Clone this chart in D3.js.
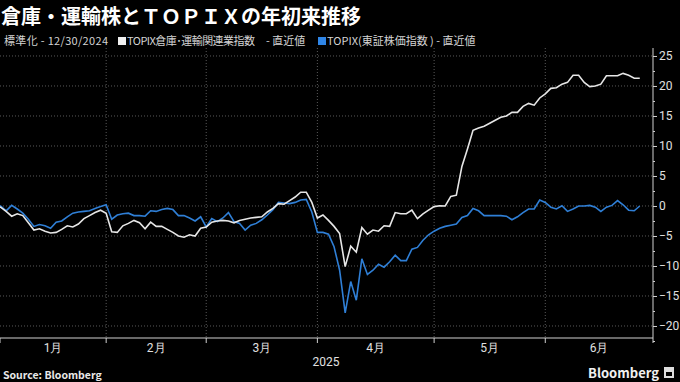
<!DOCTYPE html>
<html>
<head>
<meta charset="utf-8">
<script src="https://cdn.jsdelivr.net/npm/d3@7"></script>
<style>
	body {
		margin: 0;
		background: #000;
	}
	svg text {
		font-family: "Noto Sans CJK JP", "Noto Sans", sans-serif;
	}
	.grid line {
		stroke: #5a5a5a;
		stroke-dasharray: 1,2;
	}
	.axis path, .axis line {
		stroke: #d0d0d0;
	}
	.axis text {
		fill: #e0e0e0;
		font-size: 12px;
		font-family: "Liberation Sans Narrow", "Roboto", sans-serif;
	}
</style>
</head>
<body>
<div id="container"></div>
<script>
	// trading days since 12/30/2024 (index 0), normalised to 0
	var warehouse = [0, -0.2, -0.9, -1.7, -1.3, -1.6, -2.8, -4.0, -3.8, -4.2,
		-4.5, -4.4, -3.9, -3.3, -3.5, -3.0, -2.1, -1.6, -1.1, -0.7,
		-1.2, -4.3, -4.4, -3.3, -2.9, -2.4, -2.8, -3.8, -2.7, -3.4,
		-3.4, -3.9, -4.4, -5.0, -5.2, -4.8, -5.0, -3.7, -3.5, -2.7,
		-2.5, -2.4, -2.5, -2.8, -2.4, -2.2, -2.0, -1.9, -1.8, -1.0,
		-0.4, 0.4, 0.3, 0.9, 1.5, 2.3, 2.3, 0.6, -2.0, -1.5,
		-2.4, -3.4, -4.6, -10.1, -6.7, -7.7, -3.6, -4.7, -4.0, -4.2,
		-3.3, -3.4, -1.1, -1.3, -1.3, -0.7, -2.1, -1.3, -0.7, -0.1,
		0.05, 0.0, 1.6, 1.8, 6.6, 9.5, 12.6, 13.0, 13.3, 13.8,
		14.3, 14.8, 15.0, 15.6, 15.6, 16.6, 17.1, 16.8, 18.0, 18.7,
		19.6, 19.7, 20.3, 20.6, 21.8, 21.8, 20.6, 19.9, 20.0, 20.3,
		21.7, 21.7, 21.7, 22.1, 21.8, 21.3, 21.3];

	var topix = [0, 0, -0.8, 0.1, -0.5, -1.2, -2.2, -3.4, -3.1, -3.3,
		-3.7, -2.7, -2.5, -1.8, -1.2, -1.0, -0.9, -0.8, -0.4, -0.1,
		0.2, -2.2, -1.5, -1.3, -1.2, -1.6, -1.6, -1.7, -0.8, -0.9,
		-0.6, -0.4, -0.6, -1.6, -1.6, -2.0, -2.5, -1.8, -3.5, -2.1,
		-2.6, -2.0, -1.1, -2.6, -2.9, -4.0, -3.2, -2.9, -2.3, -1.5,
		-0.6, 0.6, 0.5, 0.4, 0.6, 1.0, 1.1, -1.0, -4.4, -4.4,
		-4.7, -6.8, -10.7, -17.8, -12.6, -15.7, -8.8, -11.4, -10.7, -9.7,
		-10.2, -9.3, -8.2, -9.1, -9.1, -7.2, -6.9, -5.7, -4.8, -4.2,
		-3.7, -3.4, -3.2, -3.0, -1.9, -1.6, -0.4, -0.8, -1.6, -1.6,
		-1.6, -1.6, -1.7, -2.3, -1.8, -1.1, -0.5, -0.5, 1.0, 0.6,
		-0.2, -0.5, 0.05, -0.9, -0.5, 0.0, 0.0, 0.1, -0.2, -0.9,
		-0.2, 0.1, 0.9, 0.2, -0.7, -0.8, 0.0];

	var monthLabels = ["1月", "2月", "3月", "4月", "5月", "6月"];
	// index of first trading day of each month (Feb..Jun)
	var monthStarts = [20, 38, 58, 79, 99];
	var yTicks = [-20, -15, -10, -5, 0, 5, 10, 15, 20, 25];

	var W = 680, H = 382;
	var plotL = 0, plotR = 653, plotT = 48, plotB = 338;

	var svg = d3.select("#container").append("svg")
		.attr("width", W)
		.attr("height", H)
		.style("background", "#000");

	var x = d3.scaleLinear().domain([0.9, 118.2]).range([plotL, plotR - 1]);
	var y = d3.scaleLinear().domain([-22, 26.33]).range([plotB, plotT]);

	// title + legend line
	svg.append("text")
		.attr("x", 1)
		.attr("y", 24)
		.attr("fill", "#fff")
		.attr("font-size", "20px")
		.attr("font-weight", "bold")
		.text("倉庫・運輸株とＴＯＰＩＸの年初来推移");

	var leg = svg.append("g").attr("font-size", "11px").attr("fill", "#d4d4d4");
	leg.append("text").attr("x", 4).attr("y", 45).attr("textLength", 104).text("標準化 - 12/30/2024");
	leg.append("rect").attr("x", 118).attr("y", 37).attr("width", 8).attr("height", 8).attr("fill", "#f0f0f0");
	leg.append("text").attr("x", 127).attr("y", 45).attr("textLength", 128).text("TOPIX倉庫･運輸関連業指数");
	leg.append("text").attr("x", 266).attr("y", 45).text("- 直近値");
	leg.append("rect").attr("x", 318).attr("y", 37).attr("width", 8).attr("height", 8).attr("fill", "#2f86e8");
	leg.append("text").attr("x", 327).attr("y", 45).text("TOPIX(東証株価指数 ) - 直近値");

	// grid
	var grid = svg.append("g").attr("class", "grid");
	grid.selectAll(".h").data(yTicks).enter().append("line")
		.attr("x1", plotL).attr("x2", plotR)
		.attr("y1", d => y(d)).attr("y2", d => y(d));
	grid.selectAll(".v").data(monthStarts).enter().append("line")
		.attr("x1", d => x(d)).attr("x2", d => x(d))
		.attr("y1", plotT).attr("y2", plotB);

	svg.append("defs").append("clipPath")
		.attr("id", "clip")
		.append("rect")
		.attr("x", plotL).attr("y", plotT)
		.attr("width", plotR - plotL).attr("height", plotB - plotT);

	var line = d3.line()
		.x((d, i) => x(i))
		.y(d => y(d));

	var lines = svg.append("g").attr("clip-path", "url(#clip)");
	lines.append("path")
		.attr("d", line(topix))
		.attr("fill", "none")
		.attr("stroke", "#2f7fd6")
		.attr("stroke-width", 1.6);
	lines.append("path")
		.attr("d", line(warehouse))
		.attr("fill", "none")
		.attr("stroke", "#e6e6e6")
		.attr("stroke-width", 1.6);

	// right axis
	var yAxis = svg.append("g")
		.attr("class", "axis")
		.attr("transform", "translate(" + plotR + ",0)")
		.call(d3.axisRight(y).tickValues(yTicks).tickSize(4).tickPadding(2).tickFormat(d3.format("d")));
	yAxis.select(".domain").attr("d", "M0," + plotT + "V" + plotB);
	svg.append("g").attr("class", "axis")
		.attr("transform", "translate(" + plotR + ",0)")
		.call(d3.axisRight(y).tickValues(d3.range(-22.5, 26, 2.5).filter(v => v % 5 != 0)).tickSize(2).tickFormat(""))
		.select(".domain").remove();

	// bottom axis
	var ticksX = [plotL].concat(monthStarts.map(d => x(d))).concat([plotR]);
	var xa = svg.append("g").attr("class", "axis");
	xa.append("line").attr("x1", plotL).attr("x2", plotR).attr("y1", plotB).attr("y2", plotB);
	xa.selectAll(".t").data(ticksX).enter().append("line")
		.attr("x1", d => d).attr("x2", d => d)
		.attr("y1", plotB).attr("y2", plotB + 5);
	xa.selectAll(".m").data(monthLabels).enter().append("text")
		.attr("x", (d, i) => (ticksX[i] + ticksX[i + 1]) / 2)
		.attr("y", 352)
		.attr("text-anchor", "middle")
		.attr("font-family", "'Noto Sans CJK JP', sans-serif")
		.attr("font-size", "11px")
		.text(d => d);
	xa.append("text")
		.attr("x", 326).attr("y", 366)
		.attr("text-anchor", "middle")
		.text("2025");

	// footer
	svg.append("text")
		.attr("x", 3).attr("y", 379)
		.attr("fill", "#e8e8e8")
		.attr("font-size", "10.5px")
		.attr("font-weight", "bold")
		.attr("font-family", "'DejaVu Sans Mono', monospace")
		.text("Source: Bloomberg");
	svg.append("text")
		.attr("x", 659).attr("y", 378)
		.attr("text-anchor", "end")
		.attr("fill", "#f0f0f0")
		.attr("font-size", "13px")
		.attr("font-weight", "bold")
		.attr("font-family", "Roboto, sans-serif")
		.text("Bloomberg");
	svg.append("rect").attr("x", 664).attr("y", 367).attr("width", 10).attr("height", 11).attr("fill", "#ddd");
	svg.append("rect").attr("x", 666).attr("y", 372).attr("width", 6).attr("height", 4).attr("fill", "#000");
</script>
</body>
</html>
